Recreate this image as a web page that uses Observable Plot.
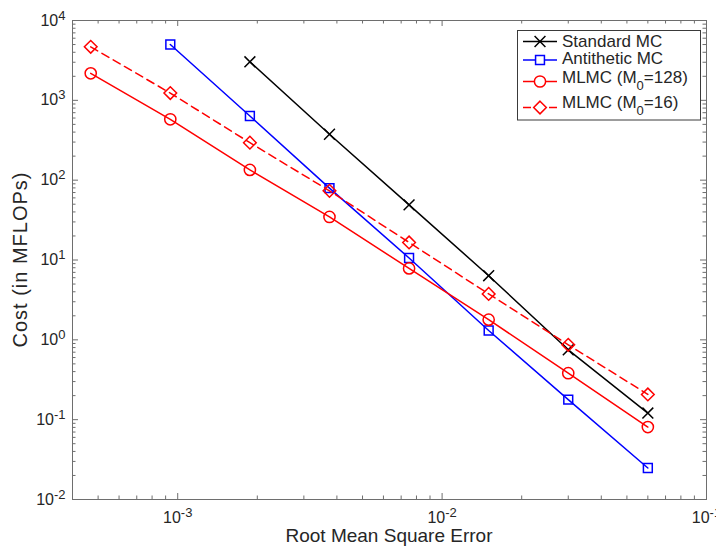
<!DOCTYPE html>
<html><head><meta charset="utf-8">
<script src="https://cdn.jsdelivr.net/npm/d3@7"></script>
<script src="https://cdn.jsdelivr.net/npm/@observablehq/plot@0.6"></script>
<style>body{margin:0;background:#fff} svg{display:block}</style>
</head><body><div id="chart"></div>
<script>
// ---- data ----
const rmse = [0.00046875, 0.0009375, 0.001875, 0.00375, 0.0075, 0.015, 0.03, 0.06];
const standardMC   = [null, null, 3040, 376, 49, 6.36, 0.75, 0.121];
const antitheticMC = [null, 5010, 637, 79.4, 10.6, 1.31, 0.178, 0.0248];
const mlmc128      = [2180, 579, 134.5, 34.6, 7.85, 1.79, 0.382, 0.0808];
const mlmc16       = [4680, 1233, 295, 73.5, 16.6, 3.76, 0.866, 0.207];
const seriesNames  = ["Standard MC", "Antithetic MC", "MLMC (M_0=128)", "MLMC (M_0=16)"];
const seriesValues = [standardMC, antitheticMC, mlmc128, mlmc16];
const seriesColors = ["#000000", "#0000ff", "#ff0000", "#ff0000"];
const seriesSymbols = ["times", "square", "circle", "diamond2"];
const seriesR = [5, 5, 5.6, 5.7];
const seriesDash = [null, null, null, "8,5"];
const xTicks = [1e-3, 1e-2, 1e-1];
const yTicks = [1e-2, 1e-1, 1e0, 1e1, 1e2, 1e3, 1e4];
const xDomain = [4e-4, 1e-1];
const yDomain = [1e-2, 1e4];
const xLabel = "Root Mean Square Error";
const yLabel = "Cost (in MFLOPs)";

// ---- layout ----
const W = 716, H = 548, mL = 72, mR = 10, mT = 20, mB = 49;
const innerH = H - mT - mB;
const axisColor = "#6e6e6e";
const textColor = "#262626";
const font = "'Liberation Sans', Arial, Helvetica, sans-serif";

function minorTicks(domain) {
  const out = [];
  const lo = Math.floor(Math.log10(domain[0])), hi = Math.ceil(Math.log10(domain[1]));
  for (let e = lo; e < hi; e++) for (let m = 2; m <= 9; m++) {
    const v = m * Math.pow(10, e);
    if (v >= domain[0] * 0.999 && v <= domain[1] * 1.001) out.push(v);
  }
  return out;
}
const xMinor = minorTicks(xDomain), yMinor = minorTicks(yDomain);

const marks = [];
seriesValues.forEach((vals, i) => {
  const rows = rmse.map((x, j) => ({x, y: vals[j]})).filter(d => d.y != null);
  marks.push(Plot.line(rows, {x: "x", y: "y", stroke: seriesColors[i], strokeWidth: 1.5,
    strokeDasharray: seriesDash[i] || undefined}));
  marks.push(Plot.dot(rows, {x: "x", y: "y", stroke: seriesColors[i], fill: "none", strokeWidth: 1.5,
    symbol: seriesSymbols[i], r: seriesR[i]}));
});

const tickStyle = {stroke: axisColor, strokeWidth: 1};
const chart = Plot.plot({
  width: W, height: H, marginLeft: mL, marginRight: mR, marginTop: mT, marginBottom: mB,
  style: {fontFamily: font, fontSize: "16px", color: textColor, background: "#fff"},
  x: {type: "log", domain: xDomain},
  y: {type: "log", domain: yDomain},
  marks: [
    // inward ticks on all four sides (box on)
    Plot.tickX(xTicks, {x: d => d, insetTop: innerH - 6, ...tickStyle}),
    Plot.tickX(xTicks, {x: d => d, insetBottom: innerH - 6, ...tickStyle}),
    Plot.tickX(xMinor, {x: d => d, insetTop: innerH - 3.5, ...tickStyle}),
    Plot.tickX(xMinor, {x: d => d, insetBottom: innerH - 3.5, ...tickStyle}),
    Plot.tickY(yTicks, {y: d => d, insetRight: (W - mL - mR) - 6, ...tickStyle}),
    Plot.tickY(yTicks, {y: d => d, insetLeft: (W - mL - mR) - 6, ...tickStyle}),
    Plot.tickY(yMinor, {y: d => d, insetRight: (W - mL - mR) - 3.5, ...tickStyle}),
    Plot.tickY(yMinor, {y: d => d, insetLeft: (W - mL - mR) - 3.5, ...tickStyle}),
    Plot.axisX({ticks: xTicks, tickSize: 0, tickPadding: 12, label: null, fontSize: 16,
      tickFormat: d => "10^" + Math.round(Math.log10(d))}),
    Plot.axisY({ticks: yTicks, tickSize: 0, tickPadding: 7, label: null, fontSize: 16,
      tickFormat: d => "10^" + Math.round(Math.log10(d))}),
    ...marks,
    Plot.frame({stroke: axisColor, strokeWidth: 1})
  ]
});

const NS = "http://www.w3.org/2000/svg";
// superscript exponents
chart.querySelectorAll('g[aria-label$="tick label"] text').forEach(t => {
  const s = t.textContent;
  if (!s.includes("^")) return;
  const [base, exp] = s.split("^");
  t.textContent = "";
  const a = document.createElementNS(NS, "tspan"); a.textContent = base; t.appendChild(a);
  const b = document.createElementNS(NS, "tspan"); b.textContent = exp;
  b.setAttribute("dy", "-6"); b.setAttribute("font-size", "13"); t.appendChild(b);
  t.setAttribute("fill", textColor);
});

const svg = d3.select(chart);
// axis labels
svg.append("text").attr("x", (mL + W - mR) / 2).attr("y", 542).attr("text-anchor", "middle")
  .attr("font-size", 19).attr("font-family", font).attr("fill", textColor).text(xLabel);
svg.append("text").attr("transform", `translate(27,${mT + innerH / 2}) rotate(-90)`).attr("text-anchor", "middle")
  .attr("font-size", 20).attr("letter-spacing", 1).attr("font-family", font).attr("fill", textColor).text(yLabel);

// legend
const lg = svg.append("g").attr("font-family", font).attr("font-size", 17).attr("fill", textColor)
  .attr("text-anchor", "start");
lg.append("rect").attr("x", 517.5).attr("y", 30.5).attr("width", 183).attr("height", 89.5)
  .attr("fill", "#fff").attr("stroke", "#3a3a3a").attr("stroke-width", 1);
const lineY = [41.5, 60, 81.5, 107.5];
const textY = [46.5, 64, 82.5, 107.5];
const symMap = {times: d3.symbolTimes, square: d3.symbolSquare, circle: d3.symbolCircle, diamond2: d3.symbolDiamond2};
seriesNames.forEach((name, i) => {
  lg.append("line").attr("x1", 523).attr("x2", 557).attr("y1", lineY[i]).attr("y2", lineY[i])
    .attr("stroke", seriesColors[i]).attr("stroke-width", 1.5)
    .attr("stroke-dasharray", seriesDash[i]);
  lg.append("path").attr("transform", `translate(540,${lineY[i]})`)
    .attr("d", d3.symbol(symMap[seriesSymbols[i]], Math.PI * seriesR[i] * seriesR[i])())
    .attr("fill", "#fff").attr("stroke", seriesColors[i]).attr("stroke-width", 1.5);
  const t = lg.append("text").attr("x", 562).attr("y", textY[i]).attr("text-anchor", "start");
  const parts = name.split("_");
  if (parts.length === 1) t.text(name);
  else {
    t.append("tspan").text(parts[0]);
    t.append("tspan").attr("dy", 7).attr("font-size", 13).text(parts[1][0]);
    t.append("tspan").attr("dy", -7).text(parts[1].slice(1));
  }
});

document.getElementById("chart").appendChild(chart);
</script>
</body></html>
